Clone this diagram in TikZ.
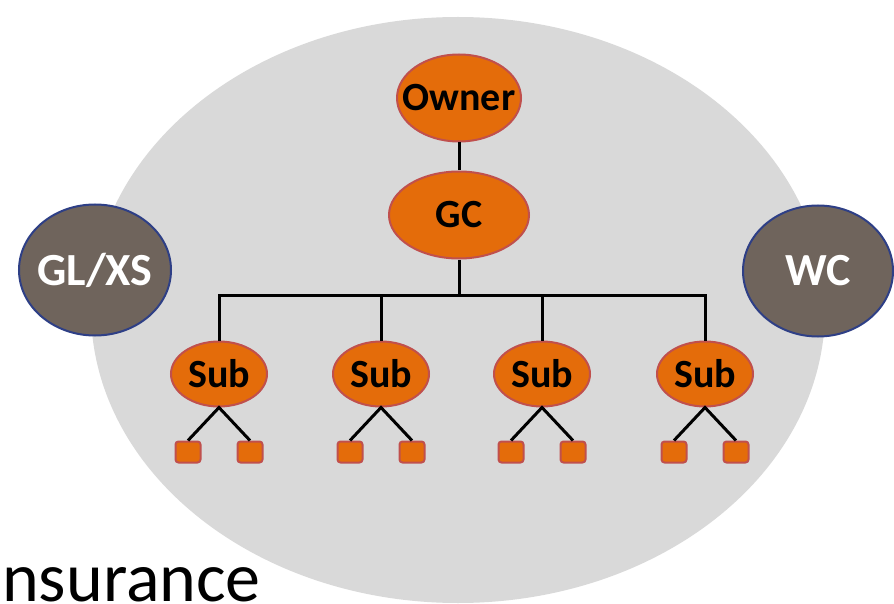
\documentclass[tikz,border=0pt]{standalone}
\usepackage{fontspec}
\setmainfont{Carlito}
\usetikzlibrary{shapes.geometric}
\definecolor{bggray}{HTML}{D9D9D9}
\definecolor{orfill}{HTML}{E46C0A}
\definecolor{orline}{HTML}{C0504D}
\definecolor{brfill}{HTML}{6F645C}
\definecolor{brline}{HTML}{2E3F86}
\tikzset{
  orell/.style={ellipse, fill=orfill, draw=orline, line width=2pt, inner sep=0pt, font=\fontsize{40}{44}\selectfont\bfseries, text=black},
  brell/.style={ellipse, fill=brfill, draw=brline, line width=2pt, inner sep=0pt, font=\fontsize{46}{50}\selectfont\bfseries, text=white},
  leaf/.style={rectangle, rounded corners=3pt, fill=orfill, draw=orline, line width=2pt, minimum width=25pt, minimum height=21pt, inner sep=0pt},
  conn/.style={line width=3pt, black}
}
\newcommand{\zw}[1]{\makebox[0pt][c]{#1}}
\begin{document}
\begin{tikzpicture}[x=1pt,y=-1pt]
\useasboundingbox (0,0) rectangle (894,604);
\clip (0,0) rectangle (894,604);
\fill[white] (0,0) rectangle (894,604);
\fill[bggray] (458,310) ellipse [x radius=367pt, y radius=293pt];
% side ellipses
\node[brell, minimum width=152pt, minimum height=131pt] (glxs) at (95,270) {\zw{GL/XS}};
\node[brell, minimum width=150pt, minimum height=131pt] (wc) at (818,271) {\zw{WC}};
% tree
\node[orell, minimum width=124pt, minimum height=87pt] (owner) at (459,98) {\zw{Owner}};
\node[orell, minimum width=140pt, minimum height=87pt] (gc) at (459,215) {\zw{GC}};
\coordinate (busL) at (219,295);
\coordinate (busR) at (705,295);
\foreach \i/\x in {1/219,2/381,3/542,4/705}{
  \node[orell, minimum width=96pt, minimum height=65pt] (sub\i) at (\x,374) {\zw{Sub}};
  \node[leaf] (l\i) at (\x-31,452) {};
  \node[leaf] (r\i) at (\x+31,452) {};
}
\draw[conn] (owner.south) -- (gc.north);
\draw[conn] (gc.south) -- (gc.south |- busL);
\draw[conn, line cap=rect] (busL) -- (busR);
\foreach \i in {1,2,3,4}{
  \draw[conn] (sub\i.north |- busL) -- (sub\i.north);
  \draw[conn] (l\i.north) -- (sub\i.south) -- (r\i.north);
}
\node[anchor=base west, inner sep=0pt, font=\fontsize{70}{72}\selectfont] (ins) at (2,601) {nsurance};
\end{tikzpicture}
\end{document}
